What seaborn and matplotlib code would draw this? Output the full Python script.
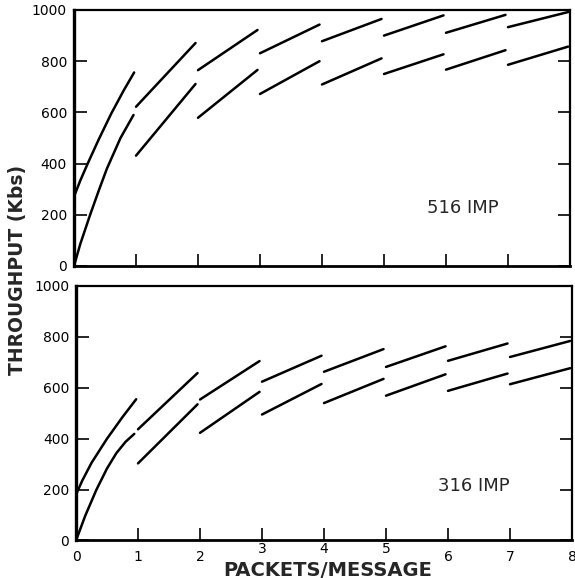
import matplotlib
matplotlib.use("Agg")
import matplotlib.pyplot as plt
import seaborn as sns
import pandas as pd

# ---------------- data ----------------
# first segment (0..1 packet) is curved: several points
imp516_upper_x0 = [0.0, 0.10, 0.23, 0.40, 0.60, 0.80, 0.97]
imp516_upper_y0 = [271, 333, 405, 495, 595, 685, 756]
imp516_lower_x0 = [0.0, 0.10, 0.26, 0.40, 0.53, 0.75, 0.96]
imp516_lower_y0 = [0, 85, 200, 295, 380, 500, 590]

imp316_upper_x0 = [0.0, 0.10, 0.25, 0.50, 0.75, 0.97]
imp316_upper_y0 = [180, 235, 305, 400, 485, 555]
imp316_lower_x0 = [0.0, 0.15, 0.33, 0.50, 0.65, 0.80, 0.94]
imp316_lower_y0 = [0, 98, 200, 283, 343, 388, 419]

# later segments (n .. n+1 packets): start and end values
seg_packets_start = [1, 2, 3, 4, 5, 6, 7]
seg_packets_end = [1.96, 2.96, 3.96, 4.96, 5.96, 6.96, 7.97]

imp516_upper_start = [622, 765, 831, 878, 900, 911, 933]
imp516_upper_end = [871, 922, 943, 965, 979, 981, 992]
imp516_lower_start = [431, 579, 672, 709, 750, 767, 786]
imp516_lower_end = [711, 766, 800, 811, 827, 843, 857]

imp316_upper_start = [437, 554, 624, 663, 682, 706, 721]
imp316_upper_end = [658, 705, 726, 752, 763, 774, 784]
imp316_lower_start = [303, 423, 495, 540, 569, 588, 614]
imp316_lower_end = [535, 584, 615, 635, 653, 656, 677]

x_ticks = [0, 1, 2, 3, 4, 5, 6, 7, 8]
raised_ticks = [3, 4, 5]
y_ticks = [0, 200, 400, 600, 800, 1000]

# ---------------- build long table ----------------
rows = []


def add_series(panel, series, x0, y0, starts, ends):
    for x, y in zip(x0, y0):
        rows.append(dict(panel=panel, unit=f"{series}-0", packets=x, throughput=y))
    for i, (xs, xe, ys, ye) in enumerate(zip(seg_packets_start, seg_packets_end, starts, ends), 1):
        rows.append(dict(panel=panel, unit=f"{series}-{i}", packets=xs, throughput=ys))
        rows.append(dict(panel=panel, unit=f"{series}-{i}", packets=xe, throughput=ye))


add_series("516 IMP", "upper", imp516_upper_x0, imp516_upper_y0, imp516_upper_start, imp516_upper_end)
add_series("516 IMP", "lower", imp516_lower_x0, imp516_lower_y0, imp516_lower_start, imp516_lower_end)
add_series("316 IMP", "upper", imp316_upper_x0, imp316_upper_y0, imp316_upper_start, imp316_upper_end)
add_series("316 IMP", "lower", imp316_lower_x0, imp316_lower_y0, imp316_lower_start, imp316_lower_end)
df = pd.DataFrame(rows)

# ---------------- plotting ----------------
sns.set_theme(style="white")
plt.rcParams["font.family"] = ["DejaVu Sans"]

fig = plt.figure(figsize=(5.75, 5.78), dpi=100)
ax1 = fig.add_axes([0.1287, 0.5398, 0.8626, 0.4429])
ax2 = fig.add_axes([0.1322, 0.0649, 0.8626, 0.4403])

for ax, panel in [(ax1, "516 IMP"), (ax2, "316 IMP")]:
    sub = df[df.panel == panel]
    sns.lineplot(data=sub, x="packets", y="throughput", units="unit", estimator=None,
                 sort=False, color="black", lw=1.8, ax=ax, legend=False)
    ax.set_xlim(0, 8)
    ax.set_ylim(0, 1000)
    ax.set_xticks(x_ticks)
    ax.set_yticks(y_ticks)
    ax.set_xlabel("")
    ax.set_ylabel("")
    ax.set_facecolor("white")
    ax.tick_params(axis="y", direction="in", length=9, width=1.2, left=True, right=True,
                   labelsize=10, pad=5, colors="black")
    ax.tick_params(axis="x", direction="in", length=9, width=1.2, bottom=True, top=False,
                   labelsize=10, pad=7, colors="black")
    for side, lw in [("left", 2.4), ("bottom", 2.0), ("top", 1.6), ("right", 1.6)]:
        ax.spines[side].set_visible(True)
        ax.spines[side].set_linewidth(lw)
        ax.spines[side].set_color("black")
    ax.grid(False)

ax1.set_xticklabels([])
ax2.set_xticklabels([str(t) for t in x_ticks])

# draw once so tick objects are final, then raise labels 3, 4, 5 (as in the reference)
fig.canvas.draw()
for tick in ax2.xaxis.get_major_ticks():
    if round(tick.get_loc()) in raised_ticks:
        tick.label1.set_y(0.033)

ax1.text(6.27, 226, "516 IMP", fontsize=13, ha="center", va="center")
ax2.text(6.42, 214, "316 IMP", fontsize=13, ha="center", va="center")

fig.text(18 / 575, 1 - 270 / 578, "THROUGHPUT (Kbs)", rotation=90, ha="center", va="center",
         fontsize=13.5, fontweight="bold")
fig.text(328 / 575, 1 - 570 / 578, "PACKETS/MESSAGE", ha="center", va="center",
         fontsize=14, fontweight="bold")

fig.savefig("out.png", dpi=100, facecolor="white")
